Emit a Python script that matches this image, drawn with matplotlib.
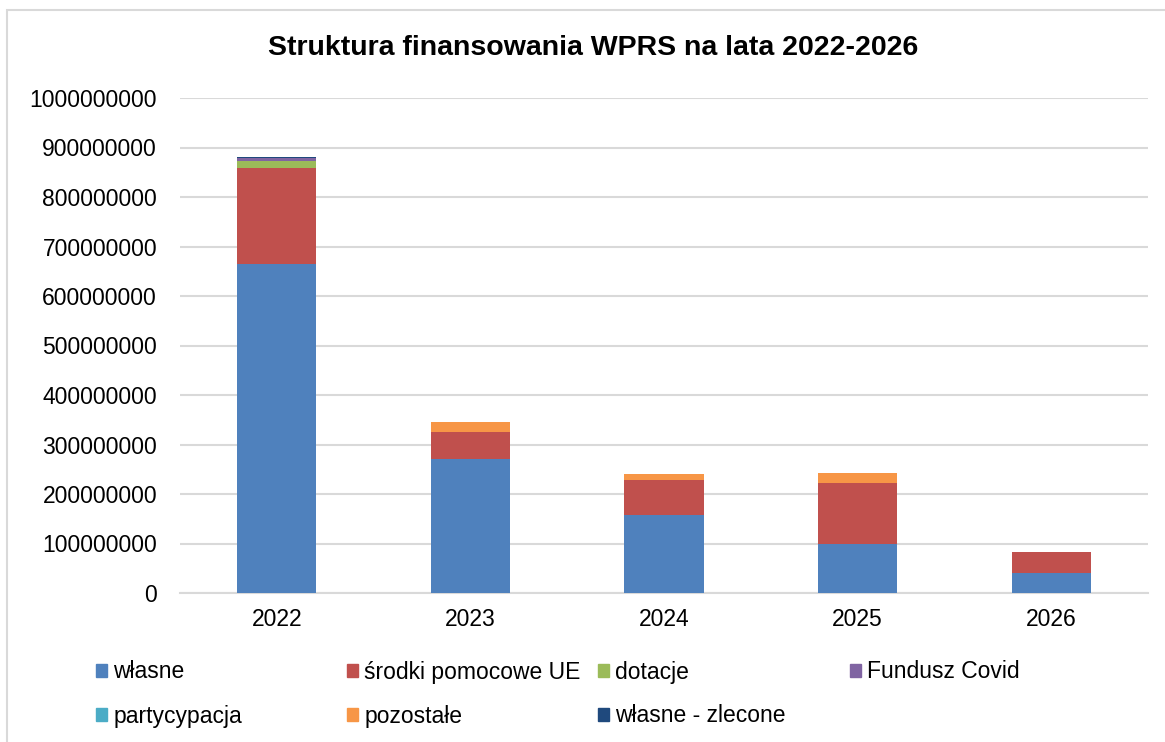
import matplotlib.pyplot as plt
import matplotlib.patches as mpatches
import numpy as np

plt.rcParams['font.family'] = ['Liberation Sans', 'DejaVu Sans']

years = ['2022', '2023', '2024', '2025', '2026']
series_names = ['własne', 'środki pomocowe UE', 'dotacje', 'Fundusz Covid',
                'partycypacja', 'pozostałe', 'własne - zlecone']
wlasne = [665e6, 271e6, 158e6, 98e6, 41e6]
srodki_ue = [194e6, 55e6, 70e6, 124e6, 41e6]
dotacje = [14e6, 0, 0, 0, 0]
fundusz_covid = [6e6, 0, 0, 0, 0]
partycypacja = [0, 0, 0, 0, 0]
pozostale = [0, 20e6, 12e6, 21e6, 0]
wlasne_zlecone = [2.5e6, 0, 0, 0, 0]
colors = ['#4F81BD', '#C0504D', '#9BBB59', '#8064A2', '#4BACC6', '#F79646', '#1F497D']

W, H = 1165, 742
fig = plt.figure(figsize=(W / 100, H / 100), dpi=100)
ax = fig.add_axes([180 / W, 1 - 593 / H, (1148 - 180) / W, (593 - 98) / H])

# outer chart border (cut off at right/bottom like the screenshot)
fig.patches.append(mpatches.Rectangle((7 / W, -0.05), 1.1, 1 - 10 / H + 0.05,
                                      transform=fig.transFigure, fill=False,
                                      edgecolor='#D9D9D9', linewidth=1.5))

x = np.arange(len(years))
bottom = np.zeros(len(years))
for name, vals, c in zip(series_names,
                         [wlasne, srodki_ue, dotacje, fundusz_covid, partycypacja, pozostale, wlasne_zlecone],
                         colors):
    ax.bar(x, vals, 0.41, bottom=bottom, color=c, label=name, zorder=3)
    bottom += np.array(vals)

ax.set_xlim(-0.5, 4.5)
ax.set_ylim(0, 1e9)
ax.set_yticks(np.arange(0, 1.0001e9, 1e8))
ax.set_yticklabels([str(int(v)) for v in np.arange(0, 1.0001e9, 1e8)])
ax.set_xticks(x)
ax.set_xticklabels(years)
ax.tick_params(axis='both', length=0, labelsize=16.5, colors='black')
ax.tick_params(axis='y', pad=16.5)
ax.tick_params(axis='x', pad=11)
ax.grid(axis='y', color='#D9D9D9', linewidth=1.5, zorder=0)
for s in ['left', 'right', 'top']:
    ax.spines[s].set_visible(False)
ax.spines['bottom'].set_color('#D9D9D9')
ax.spines['bottom'].set_linewidth(1.5)

fig.text(593 / W, 1 - 48 / H, 'Struktura finansowania WPRS na lata 2022-2026',
         ha='center', va='center', fontsize=20.5, fontweight='bold')

# legend entries laid out row-wise like the original
pos = [(96, 672), (347, 672), (598, 672), (850, 672),
       (96, 716), (347, 716), (598, 716)]
for (px, py), name, c in zip(pos, series_names, colors):
    h = mpatches.Patch(color=c)
    fig.legend([h], [name], loc='center left', bbox_to_anchor=(px / W, 1 - py / H),
               frameon=False, fontsize=16.5, handlelength=0.5, handleheight=0.5,
               handletextpad=0.25, borderpad=0, borderaxespad=0)

fig.savefig('out.png', dpi=100)
